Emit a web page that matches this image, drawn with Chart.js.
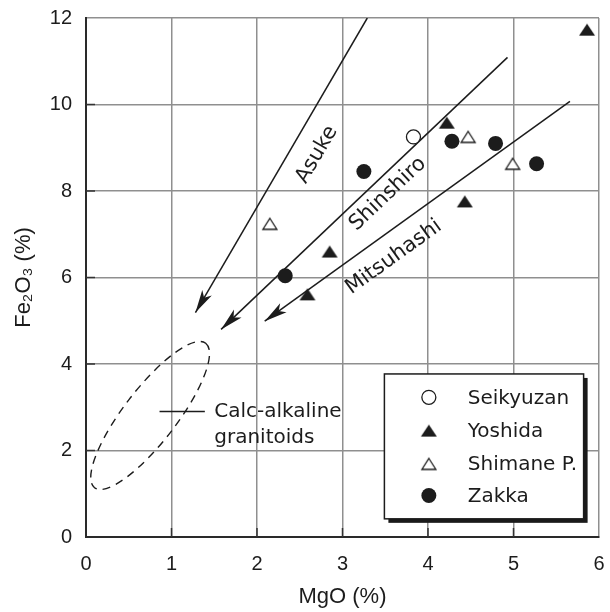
<!DOCTYPE html>
<html><head><meta charset="utf-8">
<script src="https://cdn.jsdelivr.net/npm/chart.js@4.4.1/dist/chart.umd.min.js"></script>
<style>html,body{margin:0;padding:0;background:#fff;}</style>
</head><body>
<canvas id="c" width="610" height="612"></canvas>
<script>
// ---------- data ----------
const xTicks = [0, 1, 2, 3, 4, 5, 6];
const yTicks = [0, 2, 4, 6, 8, 10, 12];
const seriesNames = ['Seikyuzan', 'Yoshida', 'Shimane P.', 'Zakka'];
const seikyuzanMgO = [3.83];
const seikyuzanFe  = [9.25];
const yoshidaMgO = [5.86, 4.22, 4.43, 2.85, 2.59];
const yoshidaFe  = [11.73, 9.58, 7.76, 6.60, 5.61];
const shimaneMgO = [4.47, 4.99, 2.15];
const shimaneFe  = [9.25, 8.63, 7.24];
const zakkaMgO = [4.28, 4.79, 5.27, 3.25, 2.33];
const zakkaFe  = [9.15, 9.10, 8.63, 8.45, 6.04];
const trendNames = ['Asuke', 'Shinshiro', 'Mitsuhashi'];
const trendStartMgO = [3.29, 4.93, 5.66];
const trendStartFe  = [12.0, 11.09, 10.07];
const trendEndMgO = [1.28, 1.58, 2.09];
const trendEndFe  = [5.19, 4.80, 4.99];
const trendLabelMgO = [2.70, 3.53, 3.60];
const trendLabelFe  = [8.84, 7.93, 6.47];
const fieldLines = ['Calc-alkaline', 'granitoids'];
const fieldCenter = [0.75, 2.81];     // MgO, Fe2O3
const fieldAxisEnd = [1.40, 4.48];    // end of long axis
const fieldWidthRatio = 0.29;
const fieldLeaderMgO = [0.86, 1.39];
const fieldLeaderFe = 2.90;
const fieldTextMgO = 1.50;
const fieldTextFe = [2.90, 2.29];

// ---------- styles ----------
const INK = '#1c1c1c';
const SANS = "'Liberation Sans', Arial, Helvetica, sans-serif";
const WIDE = "'DejaVu Sans', 'Liberation Sans', sans-serif";

function triCanvas(w, h, fill, stroke, lw) {
  const pad = Math.ceil(lw || 0) + 1;
  const c = document.createElement('canvas');
  c.width = w + 2 * pad; c.height = h + 2 * pad;
  const g = c.getContext('2d');
  g.beginPath();
  g.moveTo(pad + w / 2, pad);
  g.lineTo(pad + w, pad + h);
  g.lineTo(pad, pad + h);
  g.closePath();
  if (fill) { g.fillStyle = fill; g.fill(); }
  if (stroke) { g.lineWidth = lw; g.strokeStyle = stroke; g.lineJoin = 'miter'; g.stroke(); }
  return c;
}
const triFilled = triCanvas(16, 12, INK, null, 0);
const triOpen = triCanvas(14, 11, '#fff', INK, 1.3);

const pts = (xs, ys) => xs.map((x, i) => ({x: x, y: ys[i]}));

const pointSets = [
  {label: seriesNames[0], data: pts(seikyuzanMgO, seikyuzanFe), pointStyle: 'circle', pointRadius: 7, pointBackgroundColor: '#fff', pointBorderColor: INK, pointBorderWidth: 1.3},
  {label: seriesNames[1], data: pts(yoshidaMgO, yoshidaFe), pointStyle: triFilled, pointRadius: 8, pointBackgroundColor: INK, pointBorderColor: INK, pointBorderWidth: 0},
  {label: seriesNames[2], data: pts(shimaneMgO, shimaneFe), pointStyle: triOpen, pointRadius: 8, pointBackgroundColor: '#fff', pointBorderColor: INK, pointBorderWidth: 1.3},
  {label: seriesNames[3], data: pts(zakkaMgO, zakkaFe), pointStyle: 'circle', pointRadius: 7.5, pointBackgroundColor: INK, pointBorderColor: INK, pointBorderWidth: 0}
].map(d => Object.assign({type: 'scatter', showLine: false, order: 1, pointHoverRadius: d.pointRadius}, d));

const trendSets = trendNames.map((n, i) => ({
  type: 'line', label: n, isTrend: true, order: 10,
  data: [{x: trendStartMgO[i], y: trendStartFe[i]}, {x: trendEndMgO[i], y: trendEndFe[i]}],
  borderColor: INK, borderWidth: 1.5, pointRadius: 0, fill: false, tension: 0
}));

const decor = {
  id: 'decor',
  afterDatasetsDraw(chart) {
    const ctx = chart.ctx, xs = chart.scales.x, ys = chart.scales.y, a = chart.chartArea;
    const X = v => xs.getPixelForValue(v), Y = v => ys.getPixelForValue(v);
    ctx.save();
    // inner tick marks
    ctx.strokeStyle = '#333'; ctx.lineWidth = 1.5;
    yTicks.forEach(v => { if (v > 0 && v < 12) { ctx.beginPath(); ctx.moveTo(a.left, Y(v)); ctx.lineTo(a.left + 9, Y(v)); ctx.stroke(); } });
    xTicks.forEach(v => { if (v > 0 && v < 6) { ctx.beginPath(); ctx.moveTo(X(v), a.bottom); ctx.lineTo(X(v), a.bottom - 9); ctx.stroke(); } });

    // arrowheads + labels
    trendNames.forEach((n, i) => {
      const fx = X(trendStartMgO[i]), fy = Y(trendStartFe[i]);
      const tx = X(trendEndMgO[i]), ty = Y(trendEndFe[i]);
      const ang = Math.atan2(ty - fy, tx - fx);
      const L = 23, W = 5.5;
      const dx = Math.cos(ang), dy = Math.sin(ang), px = -dy, py = dx;
      ctx.fillStyle = INK;
      ctx.beginPath();
      ctx.moveTo(tx, ty);
      ctx.lineTo(tx - L * dx + W * px, ty - L * dy + W * py);
      ctx.lineTo(tx - 0.75 * L * dx, ty - 0.75 * L * dy);
      ctx.lineTo(tx - L * dx - W * px, ty - L * dy - W * py);
      ctx.closePath(); ctx.fill();
      // label
      const lx = X(trendLabelMgO[i]), ly = Y(trendLabelFe[i]);
      ctx.save();
      ctx.translate(lx, ly);
      ctx.rotate(Math.atan2(fy - ty, fx - tx));
      ctx.font = '21px ' + WIDE; ctx.fillStyle = INK;
      ctx.textAlign = 'center'; ctx.textBaseline = 'middle';
      ctx.fillText(n, 0, 0);
      ctx.restore();
    });

    // calc-alkaline field (dashed ellipse)
    const cx = X(fieldCenter[0]), cy = Y(fieldCenter[1]);
    const ex = X(fieldAxisEnd[0]), ey = Y(fieldAxisEnd[1]);
    const ra = Math.hypot(ex - cx, ey - cy), rb = ra * fieldWidthRatio;
    ctx.strokeStyle = INK; ctx.lineWidth = 1.4; ctx.setLineDash([8, 6]);
    ctx.beginPath(); ctx.ellipse(cx, cy, ra, rb, Math.atan2(ey - cy, ex - cx), 0, Math.PI * 2); ctx.stroke();
    ctx.setLineDash([]);
    ctx.lineWidth = 1.5;
    ctx.beginPath(); ctx.moveTo(X(fieldLeaderMgO[0]), Y(fieldLeaderFe)); ctx.lineTo(X(fieldLeaderMgO[1]), Y(fieldLeaderFe)); ctx.stroke();
    ctx.font = '20px ' + WIDE; ctx.fillStyle = INK; ctx.textAlign = 'left'; ctx.textBaseline = 'middle';
    fieldLines.forEach((t, i) => ctx.fillText(t, X(fieldTextMgO), Y(fieldTextFe[i])));

    // legend box
    const bl = X(3.49), br = X(5.82), bt = Y(3.77), bb = Y(0.42);
    ctx.fillStyle = '#1a1a1a';
    ctx.fillRect(bl + 4, bt + 4, br - bl, bb - bt);
    ctx.fillStyle = '#fff';
    ctx.fillRect(bl, bt, br - bl, bb - bt);
    ctx.strokeStyle = INK; ctx.lineWidth = 1.5;
    ctx.strokeRect(bl, bt, br - bl, bb - bt);
    const mx = X(4.01), txx = X(4.465);
    const rowY = [3.23, 2.46, 1.69, 0.96];
    chart.data.datasets.filter(d => !d.isTrend).forEach((d, i) => {
      const yy = Y(rowY[i]);
      if (typeof d.pointStyle === 'object') {
        const im = d.pointStyle;
        ctx.drawImage(im, mx - im.width / 2, yy - im.height / 2);
      } else {
        ctx.beginPath(); ctx.arc(mx, yy, d.pointRadius, 0, Math.PI * 2);
        ctx.fillStyle = d.pointBackgroundColor; ctx.fill();
        if (d.pointBorderWidth > 0) { ctx.lineWidth = d.pointBorderWidth; ctx.strokeStyle = d.pointBorderColor; ctx.stroke(); }
      }
      ctx.font = '20px ' + WIDE; ctx.fillStyle = INK; ctx.textAlign = 'left'; ctx.textBaseline = 'middle';
      ctx.fillText(d.label, txx, yy + 1);
    });
    ctx.restore();
  }
};

new Chart(document.getElementById('c'), {
  data: {datasets: [...pointSets, ...trendSets]},
  options: {
    responsive: false, animation: false, devicePixelRatio: 1,
    layout: {padding: {top: 18, right: 11, left: 0, bottom: 0}},
    plugins: {legend: {display: false}, tooltip: {enabled: false}},
    scales: {
      x: {
        type: 'linear', min: 0, max: 6,
        afterBuildTicks: s => { s.ticks = xTicks.map(v => ({value: v})); },
        afterFit: s => { s.height = 75; s.paddingLeft = 0; s.paddingRight = 0; },
        grid: {color: '#8f8f8f', lineWidth: 1.5, drawTicks: false},
        border: {color: '#2a2a2a', width: 2},
        ticks: {font: {family: SANS, size: 20}, color: INK, padding: 15},
        title: {display: true, text: 'MgO (%)', font: {family: SANS, size: 22}, color: INK, padding: {top: 0, bottom: 2}}
      },
      y: {
        type: 'linear', min: 0, max: 12,
        afterBuildTicks: s => { s.ticks = yTicks.map(v => ({value: v})); },
        afterFit: s => { s.width = 86; s.paddingTop = 0; s.paddingBottom = 0; },
        grid: {color: '#8f8f8f', lineWidth: 1.5, drawTicks: false},
        border: {color: '#2a2a2a', width: 2},
        ticks: {font: {family: SANS, size: 20}, color: INK, padding: 14},
        title: {display: true, text: 'Fe\u2082O\u2083 (%)', font: {family: SANS, size: 22}, color: INK, padding: {top: 11, bottom: 0}}
      }
    }
  },
  plugins: [decor]
});
</script>
</body></html>
